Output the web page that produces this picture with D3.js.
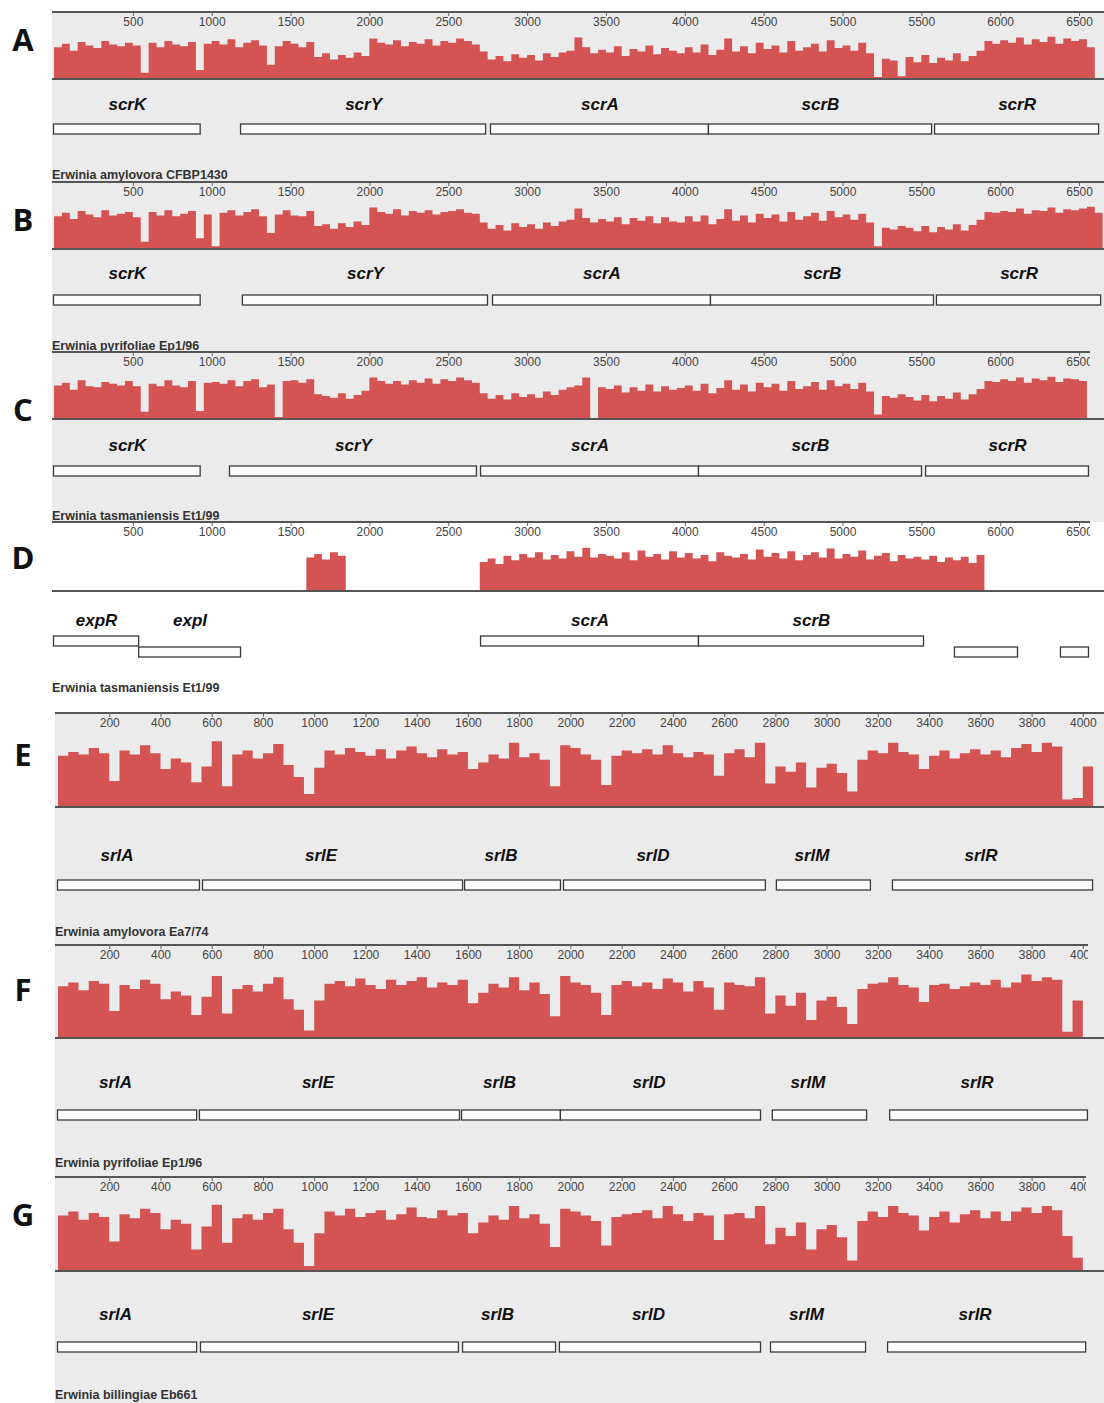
<!DOCTYPE html>
<html>
<head>
<meta charset="utf-8">
<script src="https://cdn.jsdelivr.net/npm/d3@7"></script>
<style>
  body { margin: 0; background: #fff; }
  svg { display: block; }
</style>
</head>
<body>
<div id="chart-area"></div>
<script>
// identity tracks, one value per bin (% of track height), scr operon = 50 bp bins, srl operon = 40 bp bins
const covA = [
  70, 78, 62, 82, 74, 68, 84, 76, 72, 80,
  74, 12, 80, 70, 84, 76, 72, 82, 18, 78,
  84, 76, 88, 70, 80, 86, 74, 30, 72, 84,
  78, 70, 82, 48, 56, 42, 52, 46, 58, 50,
  90, 80, 76, 86, 72, 82, 78, 88, 74, 84,
  80, 90, 84, 76, 60, 42, 50, 38, 54, 46,
  52, 40, 56, 48, 58, 62, 92, 70, 56, 64,
  58, 72, 50, 66, 60, 74, 54, 68, 62, 56,
  70, 58, 76, 52, 64, 90, 60, 72, 56, 80,
  66, 74, 58, 84, 62, 70, 78, 60, 86, 68,
  74, 62, 80, 56, 2, 44, 40, 4, 48, 36,
  52, 34, 46, 40, 56, 38, 50, 62, 84, 78,
  86, 80, 92, 76, 88, 82, 94, 78, 90, 84,
  88, 70, 0
];
const covB = [
  72, 80, 66, 84, 76, 70, 86, 74, 78, 82,
  70, 14, 82, 74, 86, 72, 78, 84, 22, 76,
  4, 80, 86, 74, 82, 88, 72, 34, 76, 86,
  74, 72, 84, 50, 54, 44, 56, 48, 60, 52,
  92, 82, 78, 88, 74, 84, 80, 86, 76, 82,
  84, 88, 80, 78, 58, 44, 52, 40, 56, 48,
  54, 44, 58, 50, 60, 64, 90, 68, 58, 66,
  60, 70, 54, 68, 62, 72, 56, 70, 60, 58,
  72, 60, 74, 54, 66, 88, 62, 74, 58, 78,
  68, 76, 60, 82, 64, 72, 80, 62, 84, 70,
  76, 64, 78, 58, 4, 46, 42, 50, 46, 38,
  50, 36, 48, 42, 54, 40, 52, 64, 82, 80,
  84, 82, 90, 78, 86, 84, 92, 80, 88, 86,
  90, 94, 80
];
const covC = [
  74, 80, 64, 86, 72, 70, 82, 78, 74, 84,
  72, 14, 78, 72, 86, 74, 70, 84, 16, 80,
  82, 78, 86, 72, 84, 88, 70, 76, 2, 84,
  86, 80, 88, 54, 50, 46, 56, 44, 52, 62,
  92, 84, 78, 84, 76, 86, 80, 90, 78, 88,
  84, 92, 86, 80, 56, 44, 52, 42, 56, 48,
  54, 46, 60, 52, 64, 70, 74, 92, 0, 70,
  66, 74, 58, 70, 62, 76, 60, 72, 64, 68,
  74, 62, 78, 56, 68, 86, 64, 76, 60, 80,
  70, 78, 62, 84, 66, 72, 82, 64, 86, 72,
  78, 66, 80, 60, 8, 50, 46, 54, 48, 40,
  52, 38, 50, 44, 58, 42, 54, 66, 84, 82,
  88, 84, 92, 80, 90, 86, 94, 82, 90, 88,
  84, 0, 0
];
const covD = [
  0, 0, 0, 0, 0, 0, 0, 0, 0, 0,
  0, 0, 0, 0, 0, 0, 0, 0, 0, 0,
  0, 0, 0, 0, 0, 0, 0, 0, 0, 0,
  0, 0, 72, 80, 68, 84, 76, 0, 0, 0,
  0, 0, 0, 0, 0, 0, 0, 0, 0, 0,
  0, 0, 0, 0, 62, 70, 58, 76, 66, 80,
  72, 84, 68, 78, 70, 86, 74, 94, 72, 80,
  76, 70, 84, 66, 88, 74, 80, 68, 86, 72,
  82, 70, 78, 64, 84, 76, 72, 80, 68, 90,
  74, 82, 70, 86, 66, 78, 84, 72, 92, 70,
  80, 74, 88, 68, 76, 82, 64, 78, 70, 74,
  68, 76, 62, 72, 66, 74, 60, 78, 0, 0,
  0, 0, 0, 0, 0, 0, 0, 0, 0, 0,
  0, 0, 0
];
const covE = [
  76, 82, 78, 88, 80, 38, 84, 78, 92, 80,
  56, 72, 66, 36, 60, 98, 30, 78, 84, 72,
  80, 94, 62, 44, 18, 58, 84, 78, 88, 82,
  76, 86, 72, 84, 90, 80, 74, 86, 78, 82,
  56, 66, 78, 72, 96, 74, 80, 70, 30, 92,
  88, 78, 70, 32, 76, 84, 80, 86, 78, 92,
  80, 74, 82, 78, 46, 80, 86, 74, 96, 34,
  60, 52, 66, 28, 58, 64, 50, 22, 70, 84,
  80, 96, 82, 78, 56, 76, 84, 72, 80, 86,
  78, 84, 74, 88, 94, 82, 96, 90, 10, 12,
  60
];
const covF = [
  78, 84, 72, 86, 82, 40, 80, 74, 88, 82,
  58, 70, 64, 34, 62, 94, 36, 74, 80, 70,
  82, 92, 58, 42, 10, 56, 82, 86, 78, 90,
  80, 74, 88, 80, 86, 92, 76, 84, 80, 88,
  52, 68, 82, 76, 92, 72, 84, 66, 32, 94,
  84, 80, 68, 34, 80, 86, 78, 84, 74, 90,
  84, 70, 86, 76, 42, 84, 80, 78, 92, 36,
  64, 48, 68, 26, 56, 62, 46, 20, 74, 82,
  84, 92, 80, 76, 54, 80, 82, 74, 78, 84,
  80, 88, 76, 84, 96, 86, 92, 88, 8, 56,
  0
];
const covG = [
  80, 86, 74, 84, 78, 42, 82, 76, 90, 84,
  60, 74, 68, 30, 64, 96, 40, 76, 82, 74,
  84, 90, 60, 40, 6, 54, 86, 80, 90, 78,
  84, 88, 74, 82, 92, 78, 76, 88, 80, 84,
  54, 70, 80, 74, 94, 76, 82, 68, 34, 90,
  86, 80, 72, 36, 78, 82, 84, 88, 76, 94,
  82, 72, 84, 80, 44, 82, 84, 76, 94, 38,
  62, 50, 70, 30, 60, 66, 48, 14, 72, 86,
  78, 94, 84, 80, 58, 78, 86, 70, 82, 88,
  76, 86, 72, 86, 92, 84, 94, 88, 50, 18,
  0
];

// genes: [start bp, end bp, name, row]
const genesA = [[0, 930, "scrK", 0], [1186, 2740, "scrY", 0], [2771, 4153, "scrA", 0], [4153, 5568, "scrB", 0], [5587, 6627, "scrR", 0]];
const genesB = [[0, 930, "scrK", 0], [1198, 2752, "scrY", 0], [2784, 4166, "scrA", 0], [4166, 5580, "scrB", 0], [5599, 6640, "scrR", 0]];
const genesC = [[0, 930, "scrK", 0], [1116, 2682, "scrY", 0], [2708, 4090, "scrA", 0], [4090, 5504, "scrB", 0], [5530, 6563, "scrR", 0]];
const genesD = [[0, 540, "expR", 0], [540, 1186, "expI", 1], [2708, 4090, "scrA", 0], [4090, 5517, "scrB", 0], [5713, 6113, "", 1], [6385, 6563, "", 1]];
const genesE = [[0, 554, "srlA", 0], [566, 1581, "srlE", 0], [1589, 1963, "srlB", 0], [1975, 2763, "srlD", 0], [2806, 3173, "srlM", 0], [3259, 4040, "srlR", 0]];
const genesF = [[0, 543, "srlA", 0], [554, 1569, "srlE", 0], [1577, 1963, "srlB", 0], [1963, 2744, "srlD", 0], [2790, 3158, "srlM", 0], [3248, 4020, "srlR", 0]];
const genesG = [[0, 543, "srlA", 0], [558, 1565, "srlE", 0], [1581, 1944, "srlB", 0], [1959, 2744, "srlD", 0], [2783, 3154, "srlM", 0], [3240, 4013, "srlR", 0]];

const speciesNames = ["Erwinia amylovora CFBP1430", "Erwinia pyrifoliae Ep1/96", "Erwinia tasmaniensis Et1/99",
  "Erwinia tasmaniensis Et1/99", "Erwinia amylovora Ea7/74", "Erwinia pyrifoliae Ep1/96", "Erwinia billingiae Eb661"];
const panelLetters = ["A", "B", "C", "D", "E", "F", "G"];
const ticksScr = [500, 1000, 1500, 2000, 2500, 3000, 3500, 4000, 4500, 5000, 5500, 6000, 6500];
const ticksSrl = [200, 400, 600, 800, 1000, 1200, 1400, 1600, 1800, 2000, 2200, 2400, 2600, 2800, 3000, 3200, 3400, 3600, 3800, 4000];

const width = 1104, height = 1403;
const red = "#d45353", grey = "#ebebeb", lineCol = "#555";

const xScr = d3.scaleLinear().domain([0, 6650]).range([54, 1102.7]);
const xSrl = d3.scaleLinear().domain([0, 4080]).range([58, 1103.3]);

const panels = [
  {cov: covA, genes: genesA, bin: 50, x: xScr, ticks: ticksScr, axisY: 12, baseY: 78, trackH: 44, labelY: 110, boxY: 124, nameY: 179, letterY: 51, clipR: 1104},
  {cov: covB, genes: genesB, bin: 50, x: xScr, ticks: ticksScr, axisY: 182, baseY: 248, trackH: 44, labelY: 279, boxY: 295, nameY: 350, letterY: 231, clipR: 1104},
  {cov: covC, genes: genesC, bin: 50, x: xScr, ticks: ticksScr, axisY: 352, baseY: 418, trackH: 44, labelY: 451, boxY: 466, nameY: 520, letterY: 421, clipR: 1090},
  {cov: covD, genes: genesD, bin: 50, x: xScr, ticks: ticksScr, axisY: 522, baseY: 590, trackH: 45, labelY: 626, boxY: 636, nameY: 692, letterY: 569, clipR: 1090},
  {cov: covE, genes: genesE, bin: 40, x: xSrl, ticks: ticksSrl, axisY: 713, baseY: 806, trackH: 66, labelY: 861, boxY: 880, nameY: 936, letterY: 766, clipR: 1104},
  {cov: covF, genes: genesF, bin: 40, x: xSrl, ticks: ticksSrl, axisY: 945, baseY: 1037, trackH: 65, labelY: 1088, boxY: 1110, nameY: 1167, letterY: 1001, clipR: 1088},
  {cov: covG, genes: genesG, bin: 40, x: xSrl, ticks: ticksSrl, axisY: 1177, baseY: 1270, trackH: 68, labelY: 1320, boxY: 1342, nameY: 1399, letterY: 1226, clipR: 1086}
];

const svg = d3.select("#chart-area").append("svg")
    .attr("width", width)
    .attr("height", height)
    .style("font-family", "'Liberation Sans', Arial, sans-serif");

// grey panel backgrounds (D sits on white)
svg.append("rect").attr("x", 52).attr("y", 12).attr("width", width - 52).attr("height", 510).attr("fill", grey);
svg.append("rect").attr("x", 55).attr("y", 713).attr("width", width - 55).attr("height", height - 713).attr("fill", grey);

const defs = svg.append("defs");

panels.forEach((p, k) => {
    const g = svg.append("g").attr("class", "panel");
    const x = p.x;
    const y = d3.scaleLinear().domain([0, 100]).range([p.baseY, p.baseY - p.trackH]);

    // identity track, one step per bin
    const pts = p.cov.map((v, i) => ({bp: i * p.bin, v: v}));
    pts.push({bp: p.cov.length * p.bin, v: 0});
    const area = d3.area()
        .curve(d3.curveStepAfter)
        .x(d => x(d.bp))
        .y0(p.baseY)
        .y1(d => y(d.v));
    g.append("path").datum(pts)
        .attr("d", area)
        .attr("fill", red);

    // baseline
    g.append("line")
        .attr("x1", k < 4 ? 52 : 55).attr("x2", width)
        .attr("y1", p.baseY + 1).attr("y2", p.baseY + 1)
        .attr("stroke", lineCol).attr("stroke-width", 2);

    // ruler on top
    defs.append("clipPath").attr("id", "clip" + k)
        .append("rect").attr("x", 0).attr("y", -5).attr("width", p.clipR).attr("height", 30);
    const ax = g.append("g")
        .attr("clip-path", "url(#clip" + k + ")")
        .attr("transform", "translate(0," + p.axisY + ")")
        .call(d3.axisBottom(x).tickValues(p.ticks).tickFormat(d3.format("d"))
            .tickSize(4).tickSizeOuter(0).tickPadding(1));
    ax.select(".domain").remove();
    ax.selectAll(".tick line").attr("stroke", "#666");
    ax.selectAll(".tick text")
        .attr("font-size", "12px")
        .attr("fill", "#444")
        .attr("font-family", "'Liberation Sans', Arial, sans-serif");
    ax.append("line")
        .attr("x1", k < 4 ? 52 : 55).attr("x2", p.clipR)
        .attr("y1", 0).attr("y2", 0)
        .attr("stroke", lineCol).attr("stroke-width", 2);

    // gene boxes
    g.selectAll("rect.gene").data(p.genes).enter().append("rect")
        .attr("class", "gene")
        .attr("x", d => x(d[0]) - 0.5)
        .attr("y", d => p.boxY + d[3] * 11)
        .attr("width", d => x(d[1]) - x(d[0]))
        .attr("height", 10)
        .attr("fill", "#fcfcfc")
        .attr("stroke", "#3a3a3a")
        .attr("stroke-width", 1.3);

    // gene names
    const shift = k < 4 ? 0 : -12;
    g.selectAll("text.gene").data(p.genes.filter(d => d[2] !== "")).enter().append("text")
        .attr("class", "gene")
        .attr("x", d => (x(d[0]) + x(d[1])) / 2 + shift)
        .attr("y", p.labelY)
        .attr("text-anchor", "middle")
        .attr("font-size", "17px")
        .attr("font-weight", "bold")
        .attr("font-style", "italic")
        .attr("fill", "#111")
        .text(d => d[2]);

    // genome name under the panel
    g.append("text")
        .attr("x", k < 4 ? 52 : 55)
        .attr("y", p.nameY)
        .attr("font-size", "12.5px")
        .attr("font-weight", "bold")
        .attr("fill", "#333")
        .text(speciesNames[k]);

    // panel letter
    svg.append("text")
        .attr("x", 23)
        .attr("y", p.letterY)
        .attr("text-anchor", "middle")
        .attr("font-family", "'Open Sans', sans-serif")
        .attr("font-size", "31px")
        .attr("font-weight", "bold")
        .attr("fill", "#111")
        .text(panelLetters[k]);
});
</script>
</body>
</html>
